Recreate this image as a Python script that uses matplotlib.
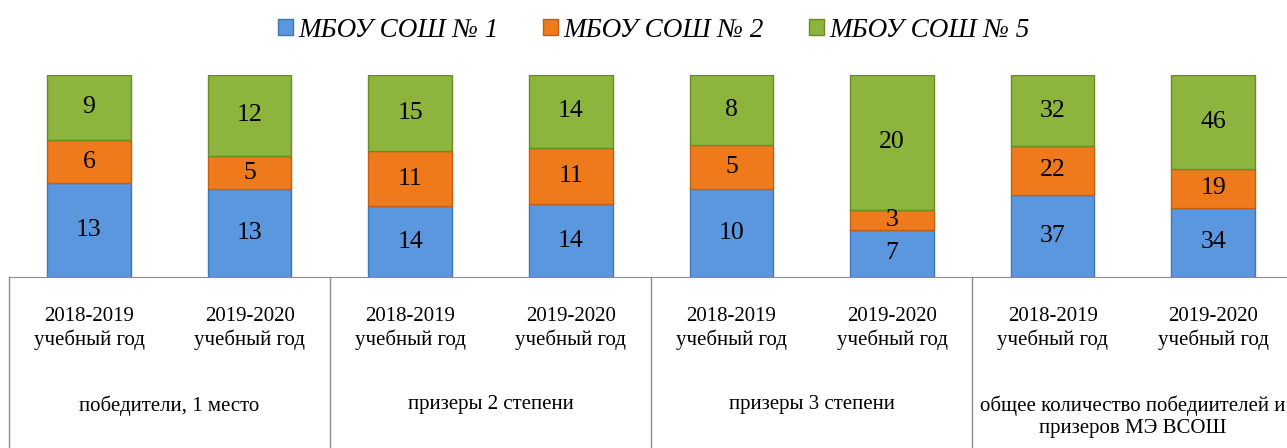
import matplotlib.pyplot as plt
import numpy as np

plt.rcParams['font.family'] = ['Liberation Serif', 'DejaVu Serif']

years = ["2018-2019\nучебный год", "2019-2020\nучебный год"] * 4
groups = ["победители, 1 место", "призеры 2 степени", "призеры 3 степени",
          "общее количество победиителей и\nпризеров МЭ ВСОШ"]
series_names = ["МБОУ СОШ № 1", "МБОУ СОШ № 2", "МБОУ СОШ № 5"]
school_1 = [13, 13, 14, 14, 10, 7, 37, 34]
school_2 = [6, 5, 11, 11, 5, 3, 22, 19]
school_5 = [9, 12, 15, 14, 8, 20, 32, 46]

colors = ["#5b97de", "#ef7a1c", "#8db53d"]
edges = ["#3f77bb", "#c45e10", "#6a8c28"]

data = np.array([school_1, school_2, school_5], dtype=float)
totals = data.sum(axis=0)
shares = data / totals

fig = plt.figure(figsize=(12.87, 4.48), dpi=100)
ax = fig.add_axes([8.7 / 1287, 1 - 277 / 448, 1284.8 / 1287, 202 / 448])

x = np.arange(len(years))
bottom = np.zeros(len(years))
for k in range(3):
    ax.bar(x, shares[k], 0.52, bottom=bottom, color=colors[k], edgecolor=edges[k],
           linewidth=1.0, label=series_names[k])
    for i in range(len(x)):
        ax.text(x[i], bottom[i] + shares[k][i] / 2, f"{int(data[k][i])}",
                ha='center', va='center', fontsize=18.5)
    bottom += shares[k]

ax.set_xlim(-0.5, 7.5)
ax.set_ylim(0, 1)
ax.set_yticks([])
ax.set_xticks([])
for s in ["top", "right", "left"]:
    ax.spines[s].set_visible(False)
ax.spines["bottom"].set_color("#8c8c8c")

tr = ax.get_xaxis_transform()
ybot = -(277 / 202)
for xv in [-0.5, 1.5, 3.5, 5.5]:
    ax.plot([xv, xv], [0, ybot], color="#8c8c8c", lw=1, transform=tr, clip_on=False)

for i, lab in enumerate(years):
    ax.text(x[i], -0.255, lab, ha='center', va='center', fontsize=15,
            transform=tr, linespacing=1.25)
for j, g in enumerate(groups):
    ax.text(2 * j + 0.5, -0.585, g, ha='center', va='top', fontsize=15,
            transform=tr, linespacing=1.25)

fig.legend(loc='upper center', bbox_to_anchor=(0.508, 1.015), ncol=3, frameon=False,
           prop={'style': 'italic', 'size': 19.5}, handlelength=0.55, handleheight=0.55,
           handletextpad=0.2, columnspacing=1.65)

fig.savefig("out.png", dpi=100)
